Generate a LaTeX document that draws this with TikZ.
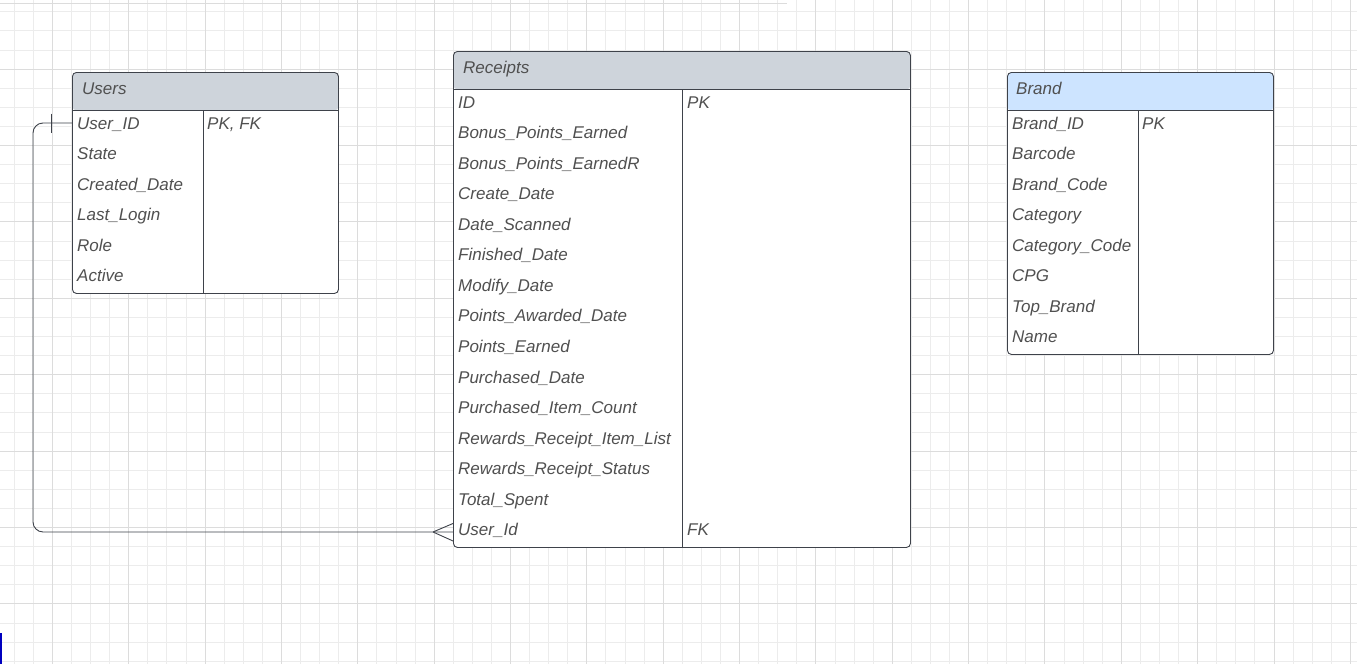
\documentclass[tikz,border=0pt]{standalone}
\usepackage{fontspec}
\setmainfont{Liberation Sans}
\usetikzlibrary{positioning}
\definecolor{headgray}{RGB}{206,212,219}
\definecolor{headblue}{RGB}{205,228,255}
\definecolor{txtgray}{RGB}{80,80,80}
\definecolor{linegray}{RGB}{62,66,74}
\definecolor{gridminor}{RGB}{236,236,236}
\definecolor{gridmajor}{RGB}{220,220,220}

\begin{document}
\begin{tikzpicture}[x=1pt,y=-1pt,
    field/.style={anchor=base west,inner sep=0pt,text height=12pt,text depth=0pt,
      text=txtgray,font=\fontsize{17}{20}\selectfont\itshape},
    table/.style={draw=linegray,line width=0.9pt,rounded corners=4pt,fill=white,
      anchor=north west,inner sep=0pt,
      path picture={\fill[#1] (path picture bounding box.north west) rectangle
        ([yshift=-38pt]path picture bounding box.north east);}},
    rule/.style={draw=linegray,line width=0.9pt},
    link/.style={draw=linegray,line width=0.9pt,rounded corners=10pt}
    ]

% background grid
\useasboundingbox (0,0) rectangle (1357,664);
\fill[white] (0,0) rectangle (1357,664);
\foreach \k in {0,...,70} \draw[gridminor,line width=0.7pt] ({14.11+19.0875*\k},0) -- ({14.11+19.0875*\k},664);
\foreach \k in {0,...,34} \draw[gridminor,line width=0.7pt] (0,{11.7+19.1*\k}) -- (1357,{11.7+19.1*\k});
\foreach \k in {0,...,17} \draw[gridmajor,line width=0.8pt] ({52.285+76.35*\k},0) -- ({52.285+76.35*\k},664);
\foreach \k in {0,...,8} \draw[gridmajor,line width=0.8pt] (0,{69+76.4*\k}) -- (1357,{69+76.4*\k});
\draw[gridmajor,line width=0.8pt] (0,3.5) -- (787,3.5);
\fill[blue!75!black] (0,633) rectangle (2,664);

% Users
\node[table=headgray,minimum width=266pt,minimum height=221pt] (users) at (72,72) {};
\draw[rule] (72,110) -- (338,110);
\draw[rule] (203,110) -- (users.south -| 203,0);
\node[field] (usershead) at (82,94.3) {Users};
\foreach \f [count=\i from 0] in {User\_ID,State,Created\_Date,Last\_Login,Role,Active}
  \node[field] (u\i) at (77,{129+30.57*\i}) {\f};
\node[field] (ukey) at (207,129) {PK, FK};

% Receipts
\node[table=headgray,minimum width=457pt,minimum height=496pt] (receipts) at (453,51) {};
\draw[rule] (453,89) -- (910,89);
\draw[rule] (682,89) -- (receipts.south -| 682,0);
\node[field] (receiptshead) at (463,73.3) {Receipts};
\foreach \f [count=\i from 0] in {ID,Bonus\_Points\_Earned,Bonus\_Points\_EarnedR,Create\_Date,
    Date\_Scanned,Finished\_Date,Modify\_Date,Points\_Awarded\_Date,Points\_Earned,
    Purchased\_Date,Purchased\_Item\_Count,Rewards\_Receipt\_Item\_List,
    Rewards\_Receipt\_Status,Total\_Spent,User\_Id}
  \node[field] (r\i) at (458,{108+30.57*\i}) {\f};
\node[field] (rkey) at (687,108) {PK};
\node[field] (rfkey) at (687,{108+30.57*14}) {FK};

% Brand
\node[table=headblue,minimum width=266pt,minimum height=282pt] (brand) at (1007,72) {};
\draw[rule] (1007,110) -- (1273,110);
\draw[rule] (1138,110) -- (brand.south -| 1138,0);
\node[field] (brandhead) at (1016,94.3) {Brand};
\foreach \f [count=\i from 0] in {Brand\_ID,Barcode,Brand\_Code,Category,Category\_Code,
    CPG,Top\_Brand,Name}
  \node[field] (b\i) at (1012,{129+30.57*\i}) {\f};
\node[field] (bkey) at (1142,129) {PK};

% relation Users -> Receipts
\coordinate (manyend) at ([yshift=-2pt]receipts.west |- r14.west);
\draw[link] (users.west |- u0.west) -- ++(-39,0) |- (manyend);
\draw[rule] (users.west |- u0.west) ++(-20.5,-9.5) -- ++(0,19);
\draw[rule] (manyend) ++(-20,0) -- ++(20,-8.5)
  (manyend) ++(-20,0) -- ++(20,9);

\end{tikzpicture}
\end{document}
